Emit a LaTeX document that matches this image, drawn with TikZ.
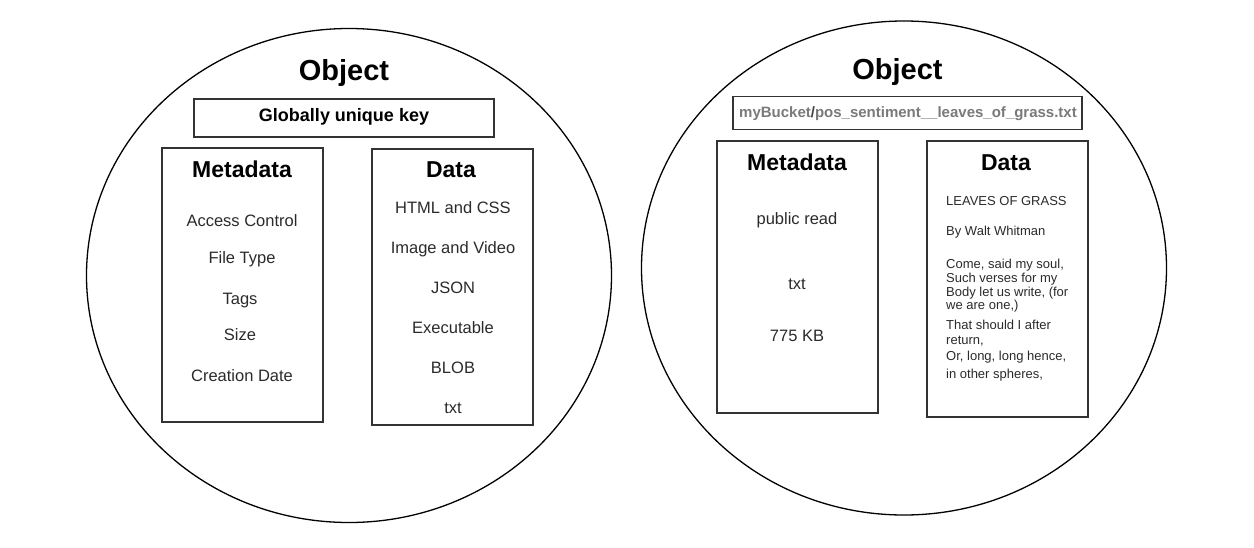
\documentclass[tikz,border=0pt]{standalone}
\usepackage{fontspec}
\setmainfont{Liberation Sans}
\usetikzlibrary{shapes.geometric}
\definecolor{boxline}{HTML}{333333}
\definecolor{itemtext}{HTML}{2b2b2b}
\definecolor{keygray}{HTML}{7a7a7a}
\definecolor{slashgray}{HTML}{444444}
\begin{document}
\begin{tikzpicture}[x=1pt,y=-1pt,
  objshape/.style={ellipse, draw, line width=1.3pt, inner sep=0pt, minimum width=525pt, minimum height=494pt},
  boxshape/.style={rectangle, draw=boxline, line width=1.4pt, inner sep=0pt},
  objtitle/.style={font=\fontsize{29}{34}\selectfont\bfseries, anchor=base, inner sep=0pt},
  coltitle/.style={font=\fontsize{23}{27}\selectfont\bfseries, anchor=base, inner sep=0pt},
  keytext/.style={font=\fontsize{18}{21}\selectfont\bfseries, anchor=base, inner sep=0pt},
  keytextr/.style={font=\fontsize{15}{18}\selectfont\bfseries, text=keygray, anchor=base, inner sep=0pt},
  item/.style={font=\fontsize{16.5}{19}\selectfont, text=itemtext, anchor=base, inner sep=0pt},
  poem/.style={font=\fontsize{13}{15}\selectfont, text=itemtext, anchor=base west, inner sep=0pt}]
\useasboundingbox (0,0) rectangle (1254,547);
\fill[white] (0,0) rectangle (1254,547);

% ---------- left object ----------
\node[objshape] (objL) at (349,275.5) {};
\node[objtitle] (titleL) at (344,80.5) {Object};
\node[boxshape, minimum width=300pt, minimum height=38pt] (keyL) at (344,118) {};
\node[keytext] (keyLtext) at (344,121.5) {Globally unique key};
\node[boxshape, minimum width=161pt, minimum height=274pt] (metaL) at (242.5,285) {};
\node[boxshape, minimum width=161pt, minimum height=276pt] (dataL) at (452.5,287) {};
\node[coltitle] (metaLt) at (242,177) {Metadata};
\node[coltitle] (dataLt) at (451,177) {Data};

\node[item] (mL1) at (242,226) {Access Control};
\node[item] (mL2) at (242,263) {File Type};
\node[item] (mL3) at (240,304) {Tags};
\node[item] (mL4) at (240,340) {Size};
\node[item] (mL5) at (242,381) {Creation Date};

\node[item] (dL1) at (453,213) {HTML and CSS};
\node[item] (dL2) at (453,253) {Image and Video};
\node[item] (dL3) at (453,293) {JSON};
\node[item] (dL4) at (453,333) {Executable};
\node[item] (dL5) at (453,373) {BLOB};
\node[item] (dL6) at (453,413) {txt};

% ---------- right object ----------
\node[objshape] (objR) at (904,268) {};
\node[objtitle] (titleR) at (897.5,79.5) {Object};
\node[boxshape, minimum width=349pt, minimum height=33pt] (keyR) at (907.5,112.7) {};
\node[keytextr] (keyRtext) at (908,117.2) {myBucket\textcolor{slashgray}{/}pos\_sentiment\_\_leaves\_of\_grass.txt};
\node[boxshape, minimum width=161pt, minimum height=272pt] (metaR) at (797.5,277) {};
\node[boxshape, minimum width=161pt, minimum height=276pt] (dataR) at (1007.5,279) {};
\node[coltitle] (metaRt) at (797,170) {Metadata};
\node[coltitle] (dataRt) at (1006,170) {Data};

\node[item] (mR1) at (797,224) {public read};
\node[item] (mR2) at (797,289) {txt};
\node[item] (mR3) at (797,341) {775 KB};

\node[poem] (p1) at (946,205) {LEAVES OF GRASS};
\node[poem] (p2) at (946,235.5) {By Walt Whitman};
\node[poem] (p3) at (946,268.5) {Come, said my soul,};
\node[poem] (p4) at (946,282) {Such verses for my};
\node[poem] (p5) at (946,296) {Body let us write, (for};
\node[poem] (p6) at (946,309.5) {we are one,)};
\node[poem] (p7) at (946,329.5) {That should I after};
\node[poem] (p8) at (946,344.5) {return,};
\node[poem] (p9) at (946,360.5) {Or, long, long hence,};
\node[poem] (p10) at (946,378) {in other spheres,};
\end{tikzpicture}
\end{document}
